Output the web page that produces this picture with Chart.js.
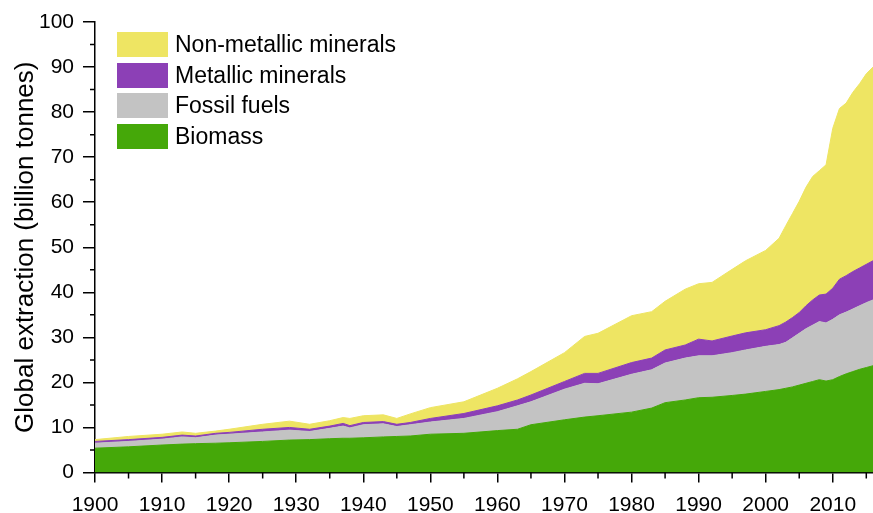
<!DOCTYPE html>
<html>
<head>
<meta charset="utf-8">
<script src="https://cdn.jsdelivr.net/npm/chart.js@4.4.1/dist/chart.umd.min.js"></script>
<style>
  html, body { margin: 0; padding: 0; background: #fff; }
  #wrap { position: relative; width: 873px; height: 513px; }
  #legend { position: absolute; left: 117px; top: 32px; font-family: "Liberation Sans", Arial, sans-serif; font-size: 23px; color: #000; }
  .item { display: flex; align-items: center; height: 25px; margin-bottom: 5.7px; }
  .box { width: 51px; height: 25px; margin-right: 7px; }
</style>
</head>
<body>
<div id="wrap">
  <canvas id="chart"></canvas>
  <div id="legend"></div>
</div>
<script>
// ==========================================
// DATA
// ==========================================
const years = [1900, 1905, 1910, 1913, 1915, 1918, 1920, 1925, 1929, 1932, 1935, 1937, 1938, 1940, 1943, 1945, 1947,
  1950, 1955, 1960, 1963, 1965, 1970, 1973, 1975, 1980, 1983, 1985, 1988, 1990, 1992, 1995, 1997,
  2000, 2002, 2003, 2004, 2005, 2006, 2007, 2008, 2009, 2010, 2011, 2012, 2013, 2014, 2015, 2016];

const biomass = [5.4, 5.7, 6.1, 6.3, 6.4, 6.5, 6.6, 6.9, 7.2, 7.3, 7.5, 7.6, 7.6, 7.7, 7.9, 8.0, 8.1,
  8.5, 8.7, 9.3, 9.6, 10.6, 11.7, 12.3, 12.6, 13.4, 14.3, 15.5, 16.1, 16.6, 16.7, 17.1, 17.4,
  18.0, 18.4, 18.7, 19.0, 19.4, 19.8, 20.2, 20.6, 20.3, 20.6, 21.3, 21.9, 22.4, 22.9, 23.3, 23.7];

const fossilFuels = [1.1, 1.2, 1.3, 1.6, 1.3, 1.8, 1.9, 2.1, 2.2, 1.8, 2.3, 2.7, 2.3, 2.9, 2.9, 2.2, 2.5,
  2.7, 3.3, 4.2, 5.2, 5.1, 6.8, 7.5, 7.1, 8.4, 8.5, 8.8, 9.3, 9.3, 9.2, 9.5, 9.8,
  10.0, 10.0, 10.2, 10.9, 11.5, 12.1, 12.5, 12.9, 12.9, 13.4, 13.7, 13.7, 13.9, 14.1, 14.4, 14.6];

const metallic = [0.4, 0.4, 0.4, 0.4, 0.4, 0.4, 0.4, 0.6, 0.6, 0.5, 0.5, 0.6, 0.5, 0.5, 0.5, 0.5, 0.5,
  0.8, 1.1, 1.3, 1.3, 1.5, 1.7, 2.2, 2.3, 2.6, 2.6, 2.9, 2.9, 3.7, 3.3, 3.7, 3.8,
  3.7, 4.2, 4.5, 4.5, 4.6, 5.1, 5.6, 5.9, 6.4, 6.9, 7.9, 8.1, 8.3, 8.4, 8.5, 8.7];

const nonMetallic = [0.4, 0.7, 0.7, 0.7, 0.6, 0.5, 0.7, 1.1, 1.4, 1.1, 1.2, 1.3, 1.6, 1.5, 1.5, 1.3, 1.9,
  2.4, 2.6, 3.9, 4.7, 5.2, 6.4, 8.2, 8.9, 10.4, 10.3, 10.8, 12.4, 12.3, 13.0, 14.8, 16.0,
  17.6, 19.4, 21.4, 23.1, 24.7, 26.3, 27.4, 27.6, 28.7, 35.5, 37.9, 38.3, 39.8, 40.9, 42.3, 43.0];

const seriesNames = ['Biomass', 'Fossil fuels', 'Metallic minerals', 'Non-metallic minerals'];
const seriesColors = ['#45a809', '#c3c3c3', '#8c40b6', '#eee563'];
const yTicks = [0, 10, 20, 30, 40, 50, 60, 70, 80, 90, 100];
const xTicks = [1900, 1910, 1920, 1930, 1940, 1950, 1960, 1970, 1980, 1990, 2000, 2010];

// ==========================================
// CHART
// ==========================================
Chart.defaults.font.family = '"Liberation Sans", Arial, sans-serif';
Chart.defaults.color = '#000';

const allSeries = [biomass, fossilFuels, metallic, nonMetallic];
const datasets = allSeries.map((vals, i) => ({
  label: seriesNames[i],
  data: vals.map((v, j) => ({ x: years[j], y: v })),
  backgroundColor: seriesColors[i],
  borderColor: seriesColors[i],
  borderWidth: 1,
  pointRadius: 0,
  tension: 0,
  fill: i === 0 ? 'origin' : '-1',
}));

// little unlabeled ticks between the labeled ones
const minorTicks = {
  id: 'minorTicks',
  afterDraw(chart) {
    const { ctx, scales: { x, y }, chartArea } = chart;
    ctx.save();
    ctx.strokeStyle = '#000';
    ctx.lineWidth = 1.5;
    ctx.beginPath();
    for (let i = 0; i < yTicks.length - 1; i++) {
      const py = y.getPixelForValue((yTicks[i] + yTicks[i + 1]) / 2);
      ctx.moveTo(chartArea.left - 5, py);
      ctx.lineTo(chartArea.left, py);
    }
    for (let i = 0; i < xTicks.length; i++) {
      const px = x.getPixelForValue(xTicks[i] + 5);
      ctx.moveTo(px, chartArea.bottom);
      ctx.lineTo(px, chartArea.bottom + 6);
    }
    ctx.stroke();
    ctx.restore();
  }
};

new Chart(document.getElementById('chart').getContext('2d'), {
  type: 'line',
  data: { datasets },
  options: {
    responsive: true, maintainAspectRatio: false, animation: false,
    layout: { padding: { top: 22, right: 0, left: 0, bottom: 0 } },
    plugins: { legend: { display: false }, tooltip: { enabled: false } },
    scales: {
      x: {
        type: 'linear', min: 1900, max: 2016,
        afterBuildTicks: (s) => { s.ticks = xTicks.map(v => ({ value: v })); },
        afterFit: (s) => { s.height = 40.5; },
        grid: { drawOnChartArea: false, drawTicks: true, tickLength: 10, color: '#000', lineWidth: 1.5 },
        border: { display: true, color: '#000', width: 1.5 },
        ticks: { font: { size: 21 }, color: '#000', padding: 10, maxRotation: 0, autoSkip: false, callback: v => String(v) }
      },
      y: {
        stacked: true, min: 0, max: 100,
        afterBuildTicks: (s) => { s.ticks = yTicks.map(v => ({ value: v })); },
        afterFit: (s) => { s.width = 95; },
        grid: { drawOnChartArea: false, drawTicks: true, tickLength: 12, color: '#000', lineWidth: 1.5 },
        border: { display: true, color: '#000', width: 1.5 },
        ticks: { font: { size: 21 }, color: '#000', padding: 9 },
        title: { display: true, text: 'Global extraction (billion tonnes)', font: { size: 26 }, color: '#000', padding: { top: 10, bottom: 0 } }
      }
    }
  },
  plugins: [minorTicks]
});

// legend, top item first
const legend = document.getElementById('legend');
for (let i = seriesNames.length - 1; i >= 0; i--) {
  const row = document.createElement('div');
  row.className = 'item';
  row.innerHTML = '<div class="box" style="background:' + seriesColors[i] + '"></div><span>' + seriesNames[i] + '</span>';
  legend.appendChild(row);
}
</script>
</body>
</html>
